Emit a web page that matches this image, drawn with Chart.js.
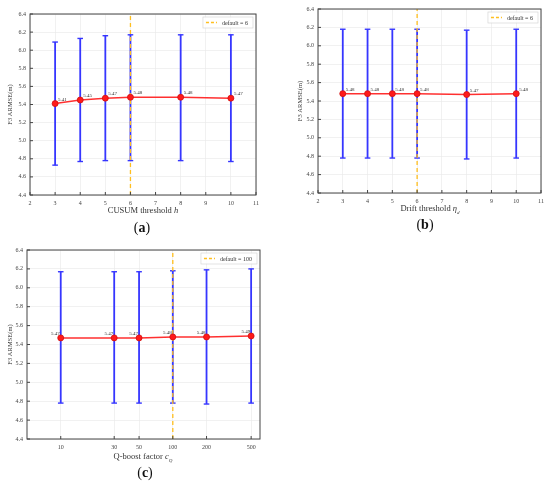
<!DOCTYPE html>
<html>
<head>
<meta charset="utf-8">
<script src="https://cdn.jsdelivr.net/npm/chart.js@4.4.1/dist/chart.umd.min.js"></script>
<style>
  body { margin: 0; background: #fff; }
  #page { position: relative; width: 550px; height: 486px; overflow: hidden; font-family: "Liberation Serif", serif; }
  .panel { position: absolute; }
  .xt { position: absolute; font-size: 8.5px; color: #333; white-space: nowrap; transform: translateX(-50%); }
  .cap { position: absolute; font-size: 14px; color: #111; transform: translateX(-50%); }
  .cap b { font-weight: bold; }
</style>
</head>
<body>
<div id="page">
  <div class="panel" style="left:0;top:0;"><canvas id="chart-a" width="265" height="220"></canvas></div>
  <div class="panel" style="left:290px;top:0;"><canvas id="chart-b" width="260" height="218"></canvas></div>
  <div class="panel" style="left:0;top:240px;"><canvas id="chart-c" width="270" height="225"></canvas></div>
  <div class="xt" style="left:143px;top:205px;">CUSUM threshold <i>h</i></div>
  <div class="xt" style="left:430px;top:203px;">Drift threshold <i>η<sub style="font-size:5px">d</sub></i></div>
  <div class="xt" style="left:143px;top:451px;">Q-boost factor <i>c<sub style="font-size:5px">Q</sub></i></div>
  <div class="cap" style="left:142px;top:220px;">(<b>a</b>)</div>
  <div class="cap" style="left:425px;top:217px;">(<b>b</b>)</div>
  <div class="cap" style="left:145px;top:465px;">(<b>c</b>)</div>
</div>
<script>
// (a) CUSUM threshold h
var cusumX = [3, 4, 5, 6, 8, 10];
var cusumMean = [5.41, 5.45, 5.47, 5.48, 5.48, 5.47];
var cusumLow = [4.73, 4.77, 4.78, 4.78, 4.78, 4.77];
var cusumHigh = [6.09, 6.13, 6.16, 6.17, 6.17, 6.17];
var cusumTicks = [2, 3, 4, 5, 6, 7, 8, 9, 10, 11];

// (b) Drift threshold
var driftX = [3, 4, 5, 6, 8, 10];
var driftMean = [5.48, 5.48, 5.48, 5.48, 5.47, 5.48];
var driftLow = [4.78, 4.78, 4.78, 4.78, 4.77, 4.78];
var driftHigh = [6.18, 6.18, 6.18, 6.18, 6.17, 6.18];
var driftTicks = [2, 3, 4, 5, 6, 7, 8, 9, 10, 11];

// (c) Q-boost factor
var qboostX = [10, 30, 50, 100, 200, 500];
var qboostMean = [5.47, 5.47, 5.47, 5.48, 5.48, 5.49];
var qboostLow = [4.78, 4.78, 4.78, 4.78, 4.77, 4.78];
var qboostHigh = [6.17, 6.17, 6.17, 6.18, 6.19, 6.20];
var qboostTicks = [10, 30, 50, 100, 200, 500];

var yTicks = [4.4, 4.6, 4.8, 5.0, 5.2, 5.4, 5.6, 5.8, 6.0, 6.2, 6.4];

var SERIF = "Liberation Serif";

// mean labels next to markers
var pointLabels = {
    id: "pointLabels",
    afterDatasetsDraw: function (chart, args, opts) {
        var ctx = chart.ctx;
        var meta = chart.getDatasetMeta(0);
        var vals = chart.data.datasets[0].data;
        ctx.save();
        ctx.font = "5px " + SERIF;
        ctx.fillStyle = "#333";
        ctx.textBaseline = "alphabetic";
        ctx.textAlign = opts.side == "left" ? "right" : "left";
        meta.data.forEach(function (pt, i) {
            var dx = opts.side == "left" ? -1 : 3;
            ctx.fillText(vals[i].y.toFixed(2), pt.x + dx, pt.y - 3);
        });
        ctx.restore();
    }
};

// frame, inward ticks and inset legend
var frame = {
    id: "frame",
    afterDraw: function (chart, args, opts) {
        var ctx = chart.ctx;
        var a = chart.chartArea;
        var xs = chart.scales.x, ys = chart.scales.y;
        ctx.save();
        ctx.strokeStyle = "#444";
        ctx.lineWidth = 1;
        ctx.strokeRect(a.left, a.top, a.right - a.left, a.bottom - a.top);
        ctx.beginPath();
        xs.ticks.forEach(function (t) {
            var px = xs.getPixelForValue(t.value);
            ctx.moveTo(px, a.bottom); ctx.lineTo(px, a.bottom - 3);
        });
        ys.ticks.forEach(function (t) {
            var py = ys.getPixelForValue(t.value);
            ctx.moveTo(a.left, py); ctx.lineTo(a.left + 3, py);
        });
        ctx.stroke();

        // legend
        ctx.font = "6px " + SERIF;
        var tw = ctx.measureText(opts.text).width;
        var w = tw + 24, h = 11;
        var bx = a.right - 3 - w, by = a.top + 3;
        ctx.fillStyle = "rgba(255,255,255,0.9)";
        ctx.fillRect(bx, by, w, h);
        ctx.strokeStyle = "#d0d0d0";
        ctx.lineWidth = 0.6;
        ctx.strokeRect(bx, by, w, h);
        ctx.strokeStyle = "#ffbf1f";
        ctx.lineWidth = 1.3;
        ctx.setLineDash([3, 2]);
        ctx.beginPath();
        ctx.moveTo(bx + 3, by + h / 2); ctx.lineTo(bx + 14, by + h / 2);
        ctx.stroke();
        ctx.setLineDash([]);
        ctx.fillStyle = "#333";
        ctx.textBaseline = "middle";
        ctx.fillText(opts.text, bx + 19, by + h / 2 + 0.5);
        ctx.restore();
    }
};

function errorSegments(xs, lo, hi) {
    var out = [];
    for (var i = 0; i < xs.length; i++) {
        out.push({ x: xs[i], y: lo[i] }, { x: xs[i], y: hi[i] }, { x: xs[i], y: null });
    }
    return out;
}

function caps(xs, lo, hi) {
    var out = [];
    for (var i = 0; i < xs.length; i++) {
        out.push({ x: xs[i], y: lo[i] }, { x: xs[i], y: hi[i] });
    }
    return out;
}

function makeChart(id, xs, mean, lo, hi, ticks, def, cfg) {
    var ctx = document.getElementById(id).getContext("2d");
    var xScale = {
        type: cfg.log ? "logarithmic" : "linear",
        min: cfg.xMin,
        max: cfg.xMax,
        afterBuildTicks: function (s) {
            s.ticks = ticks.map(function (v) { return { value: v }; });
        },
        afterFit: function (s) { s.height = cfg.xH; },
        grid: { color: "#ebebeb", lineWidth: 0.7, drawTicks: false },
        border: { display: false },
        ticks: {
            padding: 5,
            color: "#444",
            maxRotation: 0,
            autoSkip: false,
            font: { size: 6, family: SERIF },
            callback: function (v) { return String(v); }
        }
    };
    new Chart(ctx, {
        type: "line",
        data: {
            datasets: [{
                label: "mean",
                data: xs.map(function (x, i) { return { x: x, y: mean[i] }; }),
                borderColor: "#ff3030",
                borderWidth: 1.5,
                pointRadius: 3,
                pointBackgroundColor: "#ff1a1a",
                pointBorderColor: "#d01010",
                pointBorderWidth: 0.8,
                tension: 0
            }, {
                label: "default",
                data: [{ x: def, y: 4.4 }, { x: def, y: 6.4 }],
                borderColor: "#ffbf1f",
                borderWidth: 1.3,
                borderDash: [4, 3],
                pointRadius: 0
            }, {
                label: "std",
                data: errorSegments(xs, lo, hi),
                borderColor: "#3636ff",
                borderWidth: 1.8,
                pointRadius: 0,
                spanGaps: false
            }, {
                label: "caps",
                data: caps(xs, lo, hi),
                showLine: false,
                pointStyle: "line",
                pointRadius: 2.8,
                borderColor: "#3636ff",
                pointBorderWidth: 1.4
            }]
        },
        options: {
            responsive: false,
            animation: false,
            events: [],
            layout: { padding: { top: cfg.top, right: cfg.right, left: 0, bottom: 0 } },
            plugins: {
                legend: { display: false },
                tooltip: { enabled: false },
                pointLabels: { side: cfg.labelSide },
                frame: { text: "default = " + def }
            },
            scales: {
                x: xScale,
                y: {
                    min: 4.4,
                    max: 6.4,
                    afterBuildTicks: function (s) {
                        s.ticks = yTicks.map(function (v) { return { value: v }; });
                    },
                    afterFit: function (s) { s.width = cfg.yW; },
                    grid: { color: "#ebebeb", lineWidth: 0.7, drawTicks: false },
                    border: { display: false },
                    title: {
                        display: true,
                        text: "F3 ARMSE(m)",
                        color: "#333",
                        padding: { top: 6, bottom: 0 },
                        font: { size: 6.5, family: SERIF }
                    },
                    ticks: {
                        padding: 4,
                        color: "#444",
                        font: { size: 6, family: SERIF },
                        callback: function (v) { return Number(v).toFixed(1); }
                    }
                }
            }
        },
        plugins: [pointLabels, frame]
    });
}

makeChart("chart-a", cusumX, cusumMean, cusumLow, cusumHigh, cusumTicks, 6,
    { xMin: 2, xMax: 11, top: 14, right: 9, yW: 30, xH: 25, labelSide: "right" });
makeChart("chart-b", driftX, driftMean, driftLow, driftHigh, driftTicks, 6,
    { xMin: 2, xMax: 11, top: 9, right: 9, yW: 28, xH: 25, labelSide: "right" });
makeChart("chart-c", qboostX, qboostMean, qboostLow, qboostHigh, qboostTicks, 100,
    { log: true, xMin: 5, xMax: 600, top: 10, right: 10, yW: 27, xH: 26, labelSide: "left" });
</script>
</body>
</html>
